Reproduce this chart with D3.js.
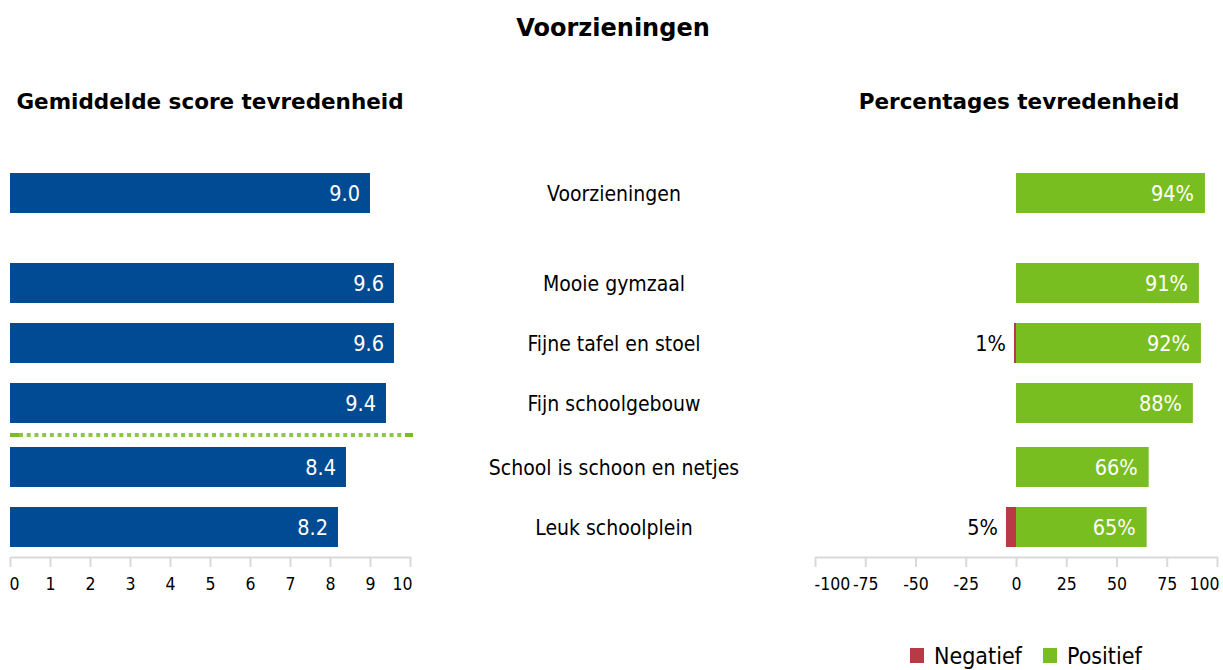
<!DOCTYPE html>
<html>
<head>
<meta charset="utf-8">
<script src="https://cdn.jsdelivr.net/npm/d3@7"></script>
<style>
  body { margin: 0; background: #fff; }
  svg text { font-family: "DejaVu Sans Condensed", "DejaVu Sans", sans-serif; }
  svg text.bold { font-family: "DejaVu Sans", sans-serif; font-weight: bold; }
</style>
</head>
<body>
<script>
// data
const categories = ['Voorzieningen', 'Mooie gymzaal', 'Fijne tafel en stoel', 'Fijn schoolgebouw', 'School is schoon en netjes', 'Leuk schoolplein']
const scores = [9.0, 9.6, 9.6, 9.4, 8.4, 8.2]
const negatief = [0, 0, 1, 0, 0, 5]
const positief = [94, 91, 92, 88, 66, 65]
const scoreTicks = [0, 1, 2, 3, 4, 5, 6, 7, 8, 9, 10]
const pctTicks = [-100, -75, -50, -25, 0, 25, 50, 75, 100]
const legendLabels = ['Negatief', 'Positief']

const w = 1223
const h = 670
const blue = '#004b93'
const green = '#78be20'
const red = '#b83a44'
const grey = '#d9d9d9'

const svg = d3.select('body')
  .append('svg')
  .attr('width', w)
  .attr('height', h)

// rows: band scale, with an extra gap after the total row and around the dotted line
const y = d3.scaleBand()
  .domain(categories)
  .range([193, 553])
  .paddingInner(1 / 3)
  .paddingOuter(1 / 6)
const rowTop = (d, i) => y(d) + (i === 0 ? -30 : 0) + (i >= 4 ? 4 : 0)
const bw = y.bandwidth()

const xs = d3.scaleLinear().domain([0, 10]).range([10, 410])
const xp = d3.scaleLinear().domain([-100, 100]).range([815, 1217])

// titles
svg.append('text')
  .attr('class', 'bold')
  .attr('x', 613).attr('y', 36)
  .attr('text-anchor', 'middle')
  .attr('font-size', 24)
  .text('Voorzieningen')

svg.append('text')
  .attr('class', 'bold')
  .attr('x', 210).attr('y', 109)
  .attr('text-anchor', 'middle')
  .attr('font-size', 21.5)
  .text('Gemiddelde score tevredenheid')

svg.append('text')
  .attr('class', 'bold')
  .attr('x', 1019).attr('y', 109)
  .attr('text-anchor', 'middle')
  .attr('font-size', 21.5)
  .text('Percentages tevredenheid')

// left bars
svg.selectAll('rect.score')
  .data(scores)
  .enter()
  .append('rect')
  .attr('class', 'score')
  .attr('x', xs(0))
  .attr('y', (d, i) => rowTop(categories[i], i))
  .attr('width', d => xs(d) - xs(0))
  .attr('height', bw)
  .attr('fill', blue)

svg.selectAll('text.score')
  .data(scores)
  .enter()
  .append('text')
  .attr('class', 'score')
  .attr('x', d => xs(d) - 10)
  .attr('y', (d, i) => rowTop(categories[i], i) + bw / 2)
  .attr('dy', '0.36em')
  .attr('text-anchor', 'end')
  .attr('font-size', 21.5)
  .attr('fill', '#fff')
  .text(d => d3.format('.1f')(d))

// dotted line between row 4 and 5
const lineY = (rowTop(categories[3], 3) + bw + rowTop(categories[4], 4)) / 2
svg.append('line')
  .attr('x1', 19).attr('x2', 405)
  .attr('y1', lineY).attr('y2', lineY)
  .attr('stroke', green).attr('stroke-width', 4)
  .attr('stroke-dasharray', '4 3.72')
  .attr('opacity', 0.85)
svg.append('line')
  .attr('x1', 10).attr('x2', 19)
  .attr('y1', lineY).attr('y2', lineY)
  .attr('stroke', green).attr('stroke-width', 4)
svg.append('line')
  .attr('x1', 405).attr('x2', 413)
  .attr('y1', lineY).attr('y2', lineY)
  .attr('stroke', green).attr('stroke-width', 4)

// category labels
svg.selectAll('text.cat')
  .data(categories)
  .enter()
  .append('text')
  .attr('class', 'cat')
  .attr('x', 614)
  .attr('y', (d, i) => rowTop(d, i) + bw / 2)
  .attr('dy', '0.36em')
  .attr('text-anchor', 'middle')
  .attr('font-size', 21)
  .text(d => d)

// right bars
svg.selectAll('rect.neg')
  .data(negatief)
  .enter()
  .append('rect')
  .attr('class', 'neg')
  .attr('x', d => xp(-d))
  .attr('y', (d, i) => rowTop(categories[i], i))
  .attr('width', d => xp(0) - xp(-d))
  .attr('height', bw)
  .attr('fill', red)

svg.selectAll('rect.pos')
  .data(positief)
  .enter()
  .append('rect')
  .attr('class', 'pos')
  .attr('x', xp(0))
  .attr('y', (d, i) => rowTop(categories[i], i))
  .attr('width', d => xp(d) - xp(0))
  .attr('height', bw)
  .attr('fill', green)

svg.selectAll('text.pos')
  .data(positief)
  .enter()
  .append('text')
  .attr('class', 'pos')
  .attr('x', d => xp(d) - 11)
  .attr('y', (d, i) => rowTop(categories[i], i) + bw / 2)
  .attr('dy', '0.36em')
  .attr('text-anchor', 'end')
  .attr('font-size', 21.5)
  .attr('fill', '#fff')
  .text(d => d + '%')

svg.selectAll('text.neg')
  .data(negatief)
  .enter()
  .append('text')
  .attr('class', 'neg')
  .attr('x', d => xp(-d) - 8)
  .attr('y', (d, i) => rowTop(categories[i], i) + bw / 2)
  .attr('dy', '0.36em')
  .attr('text-anchor', 'end')
  .attr('font-size', 21.5)
  .text(d => d > 0 ? d + '%' : '')

// axes: first label left-aligned, last label right-aligned
const styleAxis = g => {
  g.select('.domain').attr('stroke', grey).attr('stroke-width', 2)
  g.selectAll('.tick line').attr('stroke', grey).attr('stroke-width', 2)
  const n = g.selectAll('.tick text').size()
  g.selectAll('.tick text').attr('fill', '#000').attr('font-size', 17.5)
    .attr('font-family', '"DejaVu Sans Condensed", "DejaVu Sans", sans-serif')
    .attr('text-anchor', (d, i) => i === 0 ? 'start' : i === n - 1 ? 'end' : 'middle')
    .attr('x', (d, i) => i === 0 ? -1 : i === n - 1 ? 2 : 0)
}

svg.append('g')
  .attr('transform', 'translate(0,557)')
  .call(d3.axisBottom(xs).tickValues(scoreTicks).tickSize(10).tickSizeOuter(0).tickPadding(11).tickFormat(d => d))
  .call(styleAxis)

svg.append('g')
  .attr('transform', 'translate(0,557)')
  .call(d3.axisBottom(xp).tickValues(pctTicks).tickSize(10).tickSizeOuter(0).tickPadding(11).tickFormat(d => String(d)))
  .call(styleAxis)

// legend
const legendColors = [red, green]
const legendX = [910, 1043]
const lg = svg.selectAll('g.legend')
  .data(legendLabels)
  .enter()
  .append('g')
  .attr('class', 'legend')
  .attr('transform', (d, i) => `translate(${legendX[i]},648)`)
lg.append('rect')
  .attr('width', 14).attr('height', 15)
  .attr('fill', (d, i) => legendColors[i])
lg.append('text')
  .attr('x', 24).attr('y', 8)
  .attr('dy', '0.36em')
  .attr('font-size', 23)
  .text(d => d)
</script>
</body>
</html>
